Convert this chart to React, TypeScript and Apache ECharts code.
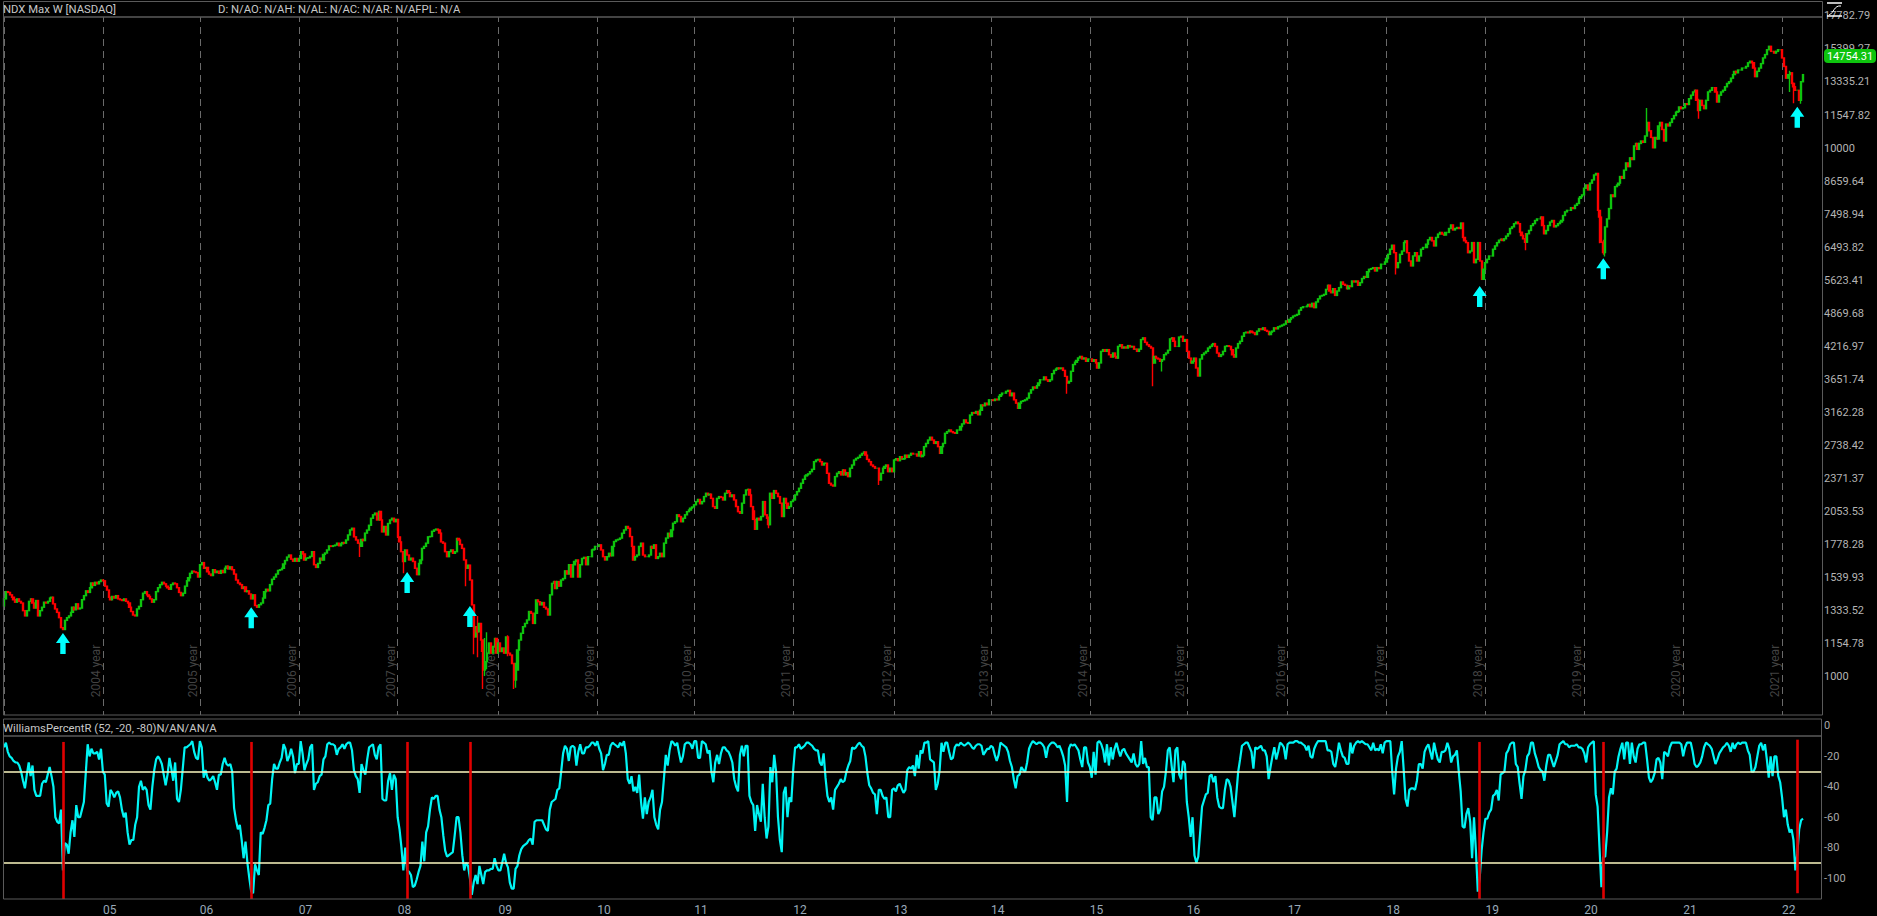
import React, { useEffect, useRef } from "react";
import * as echarts from "echarts";

const close04 = [1400,1445,1440,1425,1410,1395,1380,1400,1385,1375,1330,1300,1330,1385,1400,1375,1345,1390,1300,1330,1350,1380,1375,1385,1405,1410,1370,1340,1320,1290,1235,1225,1275,1290,1300,1320,1350,1335,1370,1340,1345,1395,1420,1450,1440,1470,1500,1485,1505,1495,1510,1520];
const close05 = [1515,1480,1455,1410,1395,1415,1405,1420,1400,1395,1390,1400,1385,1375,1350,1325,1305,1300,1340,1355,1395,1435,1445,1425,1415,1400,1380,1395,1445,1470,1490,1505,1495,1480,1470,1460,1490,1500,1495,1470,1440,1420,1435,1480,1515,1535,1565,1580,1575,1570,1540];
const close06 = [1625,1640,1600,1605,1575,1560,1550,1590,1570,1580,1565,1585,1570,1600,1615,1595,1610,1590,1560,1520,1500,1490,1465,1475,1445,1450,1430,1400,1425,1360,1350,1365,1375,1405,1445,1460,1450,1490,1525,1540,1560,1585,1590,1600,1630,1655,1680,1695,1665,1650,1670,1650];
const close07 = [1670,1720,1703,1659,1672,1675,1685,1720,1625,1606,1634,1672,1659,1700,1710,1733,1764,1760,1765,1770,1785,1765,1780,1790,1785,1810,1850,1891,1905,1835,1810,1785,1760,1815,1805,1865,1890,1930,1990,2020,2035,1975,2050,1975,1875,1920,1850,1945,1975,1990,1960,1980];
const close08 = [1835,1795,1720,1648,1733,1695,1659,1672,1648,1600,1556,1634,1659,1745,1760,1785,1835,1838,1880,1891,1898,1890,1865,1795,1785,1720,1683,1720,1733,1708,1720,1822,1810,1775,1745,1659,1600,1622,1520,1364,1186,1240,1213,1258,1170,1027,1065,1105,1155,1105,1138,1178,1105];
const close09 = [1155,1113,1130,1105,1186,1105,1096,1056,983,1027,1120,1170,1205,1240,1258,1277,1325,1315,1258,1315,1393,1383,1364,1378,1350,1340,1305,1425,1498,1510,1465,1510,1480,1520,1530,1582,1560,1625,1540,1625,1648,1659,1540,1625,1670,1678,1625,1683,1683,1733,1738,1760];
const close10 = [1760,1772,1733,1683,1659,1683,1708,1690,1760,1798,1810,1815,1825,1864,1891,1920,1905,1837,1760,1659,1683,1695,1760,1785,1695,1683,1683,1695,1760,1745,1772,1670,1683,1708,1683,1785,1825,1864,1837,1891,1947,1960,2020,2005,1960,1990,2020,2048,2063,2080,2090];
const close11 = [2110,2140,2160,2120,2140,2187,2219,2203,2210,2170,2094,2078,2170,2187,2180,2155,2219,2245,2225,2187,2203,2155,2094,2048,2034,2125,2203,2251,2257,2203,2094,1980,1897,1990,1975,2005,2140,2020,1990,1935,2219,2170,2245,2219,2187,2125,2005,2170,2125,2078,2094,2140];
const close12 = [2155,2203,2235,2268,2318,2358,2393,2404,2415,2438,2463,2547,2565,2572,2547,2510,2529,2529,2421,2318,2300,2290,2386,2421,2438,2404,2456,2404,2428,2386,2475,2510,2565,2583,2595,2620,2640,2657,2620,2572,2547,2510,2493,2475,2475,2351,2421,2475,2493,2510,2438,2475,2438];
const close13 = [2565,2580,2558,2603,2575,2580,2620,2595,2620,2641,2633,2633,2610,2660,2603,2620,2719,2758,2799,2833,2799,2758,2778,2719,2641,2719,2758,2882,2903,2924,2903,2890,2882,2924,2924,2968,3003,3055,3020,3012,3121,3155,3146,3170,3125,3187,3260,3250,3287,3264,3335];
const close14 = [3335,3325,3345,3335,3385,3410,3434,3434,3460,3475,3395,3434,3335,3287,3215,3287,3312,3322,3335,3360,3434,3484,3527,3510,3548,3588,3640,3640,3685,3640,3615,3640,3738,3792,3815,3832,3820,3832,3792,3695,3588,3615,3777,3890,3930,3962,4003,4030,3985,4003,3945,3985];
const close15 = [3985,3945,3973,3917,3832,3917,4120,4151,4120,4151,4060,4018,4090,4030,4000,4210,4240,4180,4200,4180,4225,4200,4210,4160,4160,4120,4160,4337,4370,4285,4240,4210,4180,3917,4030,4000,3985,3945,3973,4060,4090,4140,4350,4370,4305,4210,4210,4385,4400,4305,4337];
const close16 = [4120,4000,3917,3945,4000,3832,3700,3985,4060,4090,4120,4180,4210,4240,4262,4210,4090,4030,4060,4120,4210,4222,4210,4151,4060,4018,4180,4262,4305,4400,4467,4480,4467,4500,4480,4467,4433,4500,4545,4531,4565,4515,4495,4433,4480,4500,4565,4545,4585,4600,4620,4640,4705];
const close17 = [4680,4735,4770,4805,4820,4840,4930,4985,5005,5005,5020,5055,5005,5080,4985,5110,5180,5243,5258,5282,5398,5495,5360,5320,5415,5258,5360,5440,5575,5520,5495,5415,5480,5465,5600,5575,5600,5495,5560,5660,5710,5690,5830,5892,5910,5935,5850,5935,5910,6025,6025,6085];
const close18 = [6175,6290,6431,6545,6335,5935,6065,6290,6380,6620,6670,6335,6110,5980,6245,6335,6110,6245,6431,6480,6480,6575,6700,6770,6670,6525,6770,6870,6920,6870,6840,6920,6920,7040,7150,6995,7040,7070,7040,7210,6770,6670,6620,6335,6380,6620,6065,6155,6620,6110,5640,5892];
const close19 = [6065,6155,6245,6245,6431,6525,6620,6690,6720,6680,6730,6810,6880,7040,7090,7190,7240,7190,6930,6830,6730,6630,6880,6980,7130,7190,7290,7340,7340,7400,7130,6880,6980,7130,7240,7290,7090,7130,7190,7240,7290,7450,7570,7620,7620,7710,7680,7790,7850,8030,8090,8150];
const close20 = [8390,8510,8330,8580,8700,8890,8950,7620,7400,6630,6340,7090,7340,7680,8150,8090,8450,8510,8580,8830,8760,9080,9370,9220,9580,9510,10090,10200,9940,10200,10310,10250,10540,11180,10780,10470,10010,10470,10400,11010,11180,10840,10310,11100,11010,11180,11360,11520,11690,11730,11960,11870];
const close21 = [11920,12130,12090,12400,12590,12770,12860,12310,11780,12310,12040,11870,12310,12770,12860,13010,13010,12770,12220,12590,12770,12860,13060,13250,13350,13560,13770,13970,13880,14050,14050,14170,14170,14270,14500,14600,14500,14170,13650,13970,14170,14450,14810,15030,15350,15580,15240,15240,15130,15240,15350,15350];
const close22 = [14810,14270,13560,13770,13880,13250,13060,12860,12860,12310,13350,13770];

// [bar index, high, low] for the bars whose shadows stand out
const longWicks = [[187,1790,1680],[210,1680,1565],[243,1620,1480],[247,1300,1100],[249,1300,1085],[251,1250,1110],[252,1140,945],[253,1180,1000],[254,1210,1030],[265,1195,1090],[268,1040,945],[269,1060,950],[395,2060,1890],[402,2005,1905],[460,2480,2300],[559,3610,3425],[604,4000,3540],[609,3960,3775],[732,6200,5760],[800,6900,6400],[839,7620,6600],[841,6700,6280],[842,7100,6230],[864,11900,10900],[891,12400,11360],[939,14000,12770],[941,13300,12160],[945,13400,12130]];

const wr04 = [-14,-11,-17,-20,-21,-23,-24,-24,-26,-30,-36,-41,-32,-24,-33,-26,-42,-46,-46,-46,-38,-36,-37,-32,-27,-33,-40,-60,-63,-64,-55,-95,-77,-78,-84,-70,-62,-73,-52,-60,-60,-55,-50,-31,-12,-20,-15,-18,-18,-17,-22,-15];
const wr05 = [-30,-32,-51,-53,-42,-44,-47,-44,-43,-47,-55,-60,-57,-70,-78,-75,-75,-65,-60,-40,-36,-42,-40,-42,-52,-55,-40,-29,-22,-20,-22,-25,-32,-39,-32,-21,-28,-36,-24,-48,-50,-42,-28,-14,-14,-13,-12,-10,-17,-21,-22];
const wr06 = [-10,-14,-34,-29,-34,-36,-35,-33,-37,-42,-32,-32,-25,-21,-25,-26,-25,-30,-54,-62,-68,-65,-75,-87,-76,-90,-100,-109,-110,-91,-95,-98,-70,-71,-67,-62,-52,-51,-35,-25,-28,-28,-24,-21,-12,-15,-23,-20,-15,-20,-31,-25];
const wr07 = [-25,-10,-18,-29,-25,-22,-14,-12,-42,-38,-37,-33,-32,-22,-20,-12,-11,-12,-12,-13,-19,-15,-14,-12,-15,-12,-11,-11,-16,-29,-33,-35,-44,-25,-29,-32,-22,-14,-13,-12,-19,-22,-14,-12,-48,-49,-49,-36,-31,-42,-32,-35];
const wr08 = [-60,-68,-80,-95,-80,-95,-96,-98,-106,-105,-101,-96,-92,-76,-89,-70,-66,-55,-47,-48,-46,-46,-55,-60,-72,-82,-86,-85,-84,-83,-72,-60,-60,-70,-85,-95,-90,-92,-100,-111,-103,-98,-104,-92,-98,-104,-96,-95,-95,-94,-94,-87,-92];
const wr09 = [-95,-95,-90,-84,-90,-93,-103,-107,-107,-94,-92,-85,-81,-79,-78,-77,-75,-74,-78,-63,-62,-62,-62,-62,-65,-68,-69,-55,-50,-49,-48,-42,-41,-30,-18,-13,-15,-23,-14,-13,-14,-26,-17,-12,-18,-18,-14,-14,-13,-11,-11,-13];
const wr10 = [-10,-15,-18,-29,-25,-19,-19,-13,-11,-12,-13,-14,-11,-13,-10,-18,-35,-38,-33,-43,-40,-44,-32,-50,-61,-47,-58,-50,-47,-42,-60,-65,-68,-55,-50,-35,-19,-26,-16,-10,-11,-13,-11,-18,-24,-20,-12,-11,-11,-12,-15];
const wr11 = [-10,-10,-21,-21,-10,-11,-12,-18,-16,-30,-37,-24,-19,-25,-18,-14,-14,-16,-17,-20,-24,-35,-40,-43,-19,-13,-20,-13,-13,-46,-50,-52,-69,-52,-58,-63,-38,-60,-74,-66,-27,-37,-19,-30,-60,-75,-83,-44,-40,-60,-47,-50];
const wr12 = [-29,-14,-14,-12,-15,-14,-13,-11,-11,-12,-13,-15,-16,-16,-24,-26,-18,-34,-46,-50,-47,-55,-42,-40,-38,-35,-37,-36,-30,-26,-23,-14,-15,-14,-12,-11,-13,-14,-20,-31,-39,-41,-44,-45,-58,-42,-42,-46,-48,-47,-60,-60,-42];
const wr13 = [-41,-43,-39,-38,-41,-44,-42,-29,-27,-28,-26,-33,-19,-28,-16,-18,-11,-11,-10,-22,-23,-24,-42,-38,-29,-11,-17,-11,-11,-17,-22,-21,-14,-12,-13,-11,-12,-13,-12,-11,-12,-14,-15,-13,-12,-12,-13,-19,-17,-15,-15];
const wr14 = [-13,-14,-19,-23,-19,-11,-12,-13,-14,-17,-23,-27,-35,-41,-33,-32,-27,-29,-30,-24,-15,-12,-10,-11,-12,-11,-11,-12,-14,-21,-14,-12,-11,-11,-12,-14,-13,-16,-20,-26,-50,-15,-12,-13,-12,-14,-16,-22,-27,-14,-14,-24];
const wr15 = [-27,-34,-17,-32,-11,-10,-12,-16,-24,-12,-26,-14,-22,-15,-11,-16,-20,-16,-15,-18,-20,-22,-24,-18,-25,-27,-25,-10,-25,-21,-27,-27,-60,-62,-47,-47,-58,-55,-43,-40,-30,-16,-14,-26,-37,-16,-14,-32,-35,-23,-25];
const wr16 = [-50,-60,-73,-60,-85,-90,-86,-70,-53,-49,-45,-44,-33,-32,-37,-33,-47,-53,-54,-54,-42,-35,-36,-40,-50,-60,-45,-30,-22,-13,-12,-11,-11,-14,-17,-28,-14,-15,-14,-13,-16,-16,-20,-35,-27,-20,-14,-22,-17,-11,-12,-14,-22];
const wr17 = [-12,-11,-11,-11,-10,-10,-11,-11,-12,-13,-16,-13,-20,-21,-15,-12,-10,-10,-10,-10,-10,-16,-16,-17,-25,-27,-20,-11,-16,-20,-21,-25,-25,-11,-18,-13,-11,-10,-11,-10,-11,-12,-12,-14,-16,-11,-16,-15,-16,-12,-18,-11];
const wr18 = [-10,-10,-10,-30,-45,-28,-20,-17,-10,-28,-48,-53,-42,-41,-41,-42,-36,-25,-25,-28,-17,-14,-12,-17,-22,-11,-17,-22,-24,-17,-17,-16,-11,-15,-24,-20,-19,-16,-30,-43,-66,-67,-58,-54,-63,-87,-60,-82,-109,-100,-82,-70];
const wr19 = [-61,-61,-57,-55,-46,-45,-42,-49,-32,-31,-30,-18,-16,-12,-11,-11,-25,-27,-38,-48,-33,-29,-20,-18,-11,-11,-18,-22,-27,-29,-30,-36,-26,-19,-19,-23,-27,-23,-19,-12,-11,-10,-12,-12,-14,-13,-13,-13,-12,-14,-14,-15];
const wr20 = [-18,-24,-14,-12,-11,-10,-45,-53,-80,-106,-86,-86,-70,-47,-41,-45,-30,-28,-20,-15,-11,-22,-11,-11,-25,-11,-20,-24,-15,-12,-12,-11,-11,-22,-34,-37,-35,-31,-22,-21,-24,-35,-17,-18,-20,-14,-11,-11,-11,-11,-11,-12];
const wr21 = [-20,-14,-11,-11,-11,-17,-25,-27,-26,-24,-20,-14,-11,-12,-13,-15,-20,-25,-22,-18,-16,-14,-13,-11,-13,-17,-11,-15,-12,-11,-12,-11,-11,-11,-16,-19,-30,-30,-27,-20,-13,-11,-16,-12,-22,-34,-20,-33,-20,-20,-33,-37];
const wr22 = [-47,-60,-55,-65,-70,-68,-75,-95,-84,-68,-62,-61];

const closeYears = [close04,close05,close06,close07,close08,close09,close10,close11,close12,close13,close14,close15,close16,close17,close18,close19,close20,close21,close22];
const wrYears = [wr04,wr05,wr06,wr07,wr08,wr09,wr10,wr11,wr12,wr13,wr14,wr15,wr16,wr17,wr18,wr19,wr20,wr21,wr22];
const yearLabels = ["", "2004 year","2005 year","2006 year","2007 year","2008 year","2009 year","2010 year","2011 year","2012 year","2013 year","2014 year","2015 year","2016 year","2017 year","2018 year","2019 year","2020 year","2021 year"];
const tickLabels = ["", "05","06","07","08","09","10","11","12","13","14","15","16","17","18","19","20","21","22"];
const priceLabels = ["1000","1154.78","1333.52","1539.93","1778.28","2053.53","2371.37","2738.42","3162.28","3651.74","4216.97","4869.68","5623.41","6493.82","7498.94","8659.64","10000","11547.82","13335.21","15399.27","17782.79"];
const wrTicks = [0,-20,-40,-60,-80,-100];
const wrLevels = [-30,-90];
const signalBars = [31,130,212,245,776,841,943];
const arrowPrices = [1152,1290,1503,1296,5231,5908,11440];
const lastPriceText = "14754.31";

const SLOTS = 957;
const CYAN = "#00f5f5";
const FONT = "Roboto, sans-serif";
const toK = (p: number) => 16 * Math.log10(p / 1000);

function buildOption() {
  const closes = closeYears.flat();
  const wr = wrYears.flat();
  const tickIndex: number[] = [];
  let n = 0;
  for (const y of closeYears) { tickIndex.push(n); n += y.length; }
  const tickOf = new Map(tickIndex.map((v, i) => [v, i]));
  const wick = new Map(longWicks.map((w) => [w[0], w]));
  const cats = Array.from({ length: SLOTS }, (_, i) => String(i));
  const candles = closes.map((c, i) => {
    const o = i ? closes[i - 1] : c * 0.97;
    const w = wick.get(i);
    const hi = Math.max(o, c, w ? w[1] : 0);
    const lo = Math.min(o, c, w ? w[2] : 1e9);
    return [toK(o), toK(c), toK(lo), toK(hi)];
  });
  const isTick = (i: number) => tickOf.has(i);
  const lineH = (v: number) => [{ coord: [0, v] }, { coord: [SLOTS - 1, v] }];
  const border = (x: number, y: number, w: number, h: number) => ({ type: "rect", z: 100, silent: true, shape: { x, y, width: w, height: h }, style: { fill: "none", stroke: "#5a5a5a", lineWidth: 1 } });
  const txt = (x: number, y: number, text: string, extra: any = {}, z = 102) => ({ type: "text", z, silent: true, x, y, style: { text, fill: "#c8c8c8", font: `11.3px ${FONT}`, textVerticalAlign: "middle", ...extra } });
  return {
    animation: false,
    backgroundColor: "#000000",
    grid: [
      { left: 4, right: 55, top: 15, height: 700 },
      { left: 4, right: 55, top: 719, height: 180 },
    ],
    xAxis: [
      { type: "category", gridIndex: 0, data: cats, boundaryGap: false, axisLine: { show: false }, axisTick: { show: false }, axisLabel: { show: false }, splitLine: { show: true, interval: (i: number) => isTick(i), lineStyle: { color: "#6a6a6a", type: [7, 5], width: 1 } } },
      { type: "category", gridIndex: 1, data: cats, boundaryGap: false, axisLine: { show: false }, axisTick: { show: false }, splitLine: { show: false },
        axisLabel: { interval: (i: number) => isTick(i) && i > 0, formatter: (_: string, i: number) => tickLabels[tickOf.get(i) ?? 0], color: "#98a8b8", fontFamily: FONT, fontSize: 12, align: "left", margin: 5 } },
    ],
    yAxis: [
      { type: "value", gridIndex: 0, position: "right", min: -1.18, max: 20.03, splitLine: { show: false }, axisLine: { show: false }, axisTick: { show: false },
        axisLabel: { customValues: priceLabels.map((_, k) => k), formatter: (v: number) => priceLabels[Math.round(v)], color: "#b4b4b4", fontFamily: FONT, fontSize: 11, margin: 2 } },
      { type: "value", gridIndex: 1, position: "right", min: -113.8, max: 4.6, splitLine: { show: false }, axisLine: { show: false }, axisTick: { show: false },
        axisLabel: { customValues: wrTicks, color: "#a8a8a8", fontFamily: FONT, fontSize: 11, margin: 2 } },
    ],
    series: [
      { name: "NDX", type: "candlestick", xAxisIndex: 0, yAxisIndex: 0, large: false, data: candles, barWidth: 1.6, z: 3,
        itemStyle: { color: "#0ec40e", color0: "#ff0000", borderColor: "#0ec40e", borderColor0: "#ff0000", borderWidth: 1.4 } },
      { name: "signals", type: "scatter", xAxisIndex: 0, yAxisIndex: 0, z: 4, silent: true,
        symbol: "path://M7 0L14 10L9.7 10L9.7 21L4.3 21L4.3 10L0 10Z", symbolSize: [14, 21],
        itemStyle: { color: "#00ffff", opacity: 1 }, data: signalBars.map((b, i) => [b, toK(arrowPrices[i])]) },
      { name: "years", type: "scatter", xAxisIndex: 0, yAxisIndex: 0, z: 2, silent: true, symbolSize: 0,
        data: tickIndex.slice(1).map((t, i) => ({ value: [t, toK(1022)], yearText: yearLabels[i + 1] })),
        label: { show: true, position: "inside", offset: [0, -7], rotate: 90, align: "center", verticalAlign: "middle", color: "#555555", fontFamily: FONT, fontSize: 12, formatter: (p: any) => p.data.yearText } },
      { name: "levels", type: "line", xAxisIndex: 1, yAxisIndex: 1, z: 1, data: [], silent: true,
        markLine: { silent: true, symbol: "none", label: { show: false }, animation: false,
          data: [
            ...wrLevels.map((v) => { const [a, b] = lineH(v); return [{ ...a, lineStyle: { color: "#fdf8c0", width: 1.5, type: "solid" } }, b]; }),
            ...signalBars.map((b, i) => [{ coord: [b, i === 6 ? -9 : -10.5], lineStyle: { color: "#e00000", width: 2.6, type: "solid" } }, { coord: [b, i === 6 ? -110 : -113.8] }]),
          ] } },
      { name: "WilliamsPercentR", type: "line", xAxisIndex: 1, yAxisIndex: 1, z: 2, data: wr, showSymbol: false, symbol: "none", lineStyle: { color: CYAN, width: 2.2 } },
    ],
    graphic: [
      { type: "rect", z: 99, silent: true, shape: { x: 3, y: 1, width: 1819, height: 16 }, style: { fill: "#000" } },
      { type: "rect", z: 99, silent: true, shape: { x: 3, y: 719, width: 1819, height: 17 }, style: { fill: "#000" } },
      border(3.5, 1.5, 1819, 15.5),
      border(3.5, 17, 1819, 698),
      border(3.5, 719, 1818, 17),
      border(3.5, 736, 1818, 163),
      txt(3, 9, "NDX Max W [NASDAQ]"),
      txt(218, 9, "D: N/AO: N/AH: N/AL: N/AC: N/AR: N/AFPL: N/A"),
      txt(3, 728, "WilliamsPercentR (52, -20, -80)N/AN/AN/A"),
      { type: "rect", z: 103, silent: true, shape: { x: 1824, y: 49, width: 52, height: 14, r: 4 }, style: { fill: "#0ec40e" } },
      txt(1850, 56, lastPriceText, { fill: "#ffffff", textAlign: "center", font: `11px ${FONT}` }, 105),
      { type: "line", z: 104, silent: true, shape: { x1: 1827, y1: 3, x2: 1842, y2: 3 }, style: { stroke: "#ffffff", lineWidth: 1.5 } },
      { type: "line", z: 104, silent: true, shape: { x1: 1827, y1: 16, x2: 1842, y2: 16 }, style: { stroke: "#ffffff", lineWidth: 1.5 } },
      { type: "bezierCurve", z: 104, silent: true, shape: { x1: 1829, y1: 15, cpx1: 1834, cpy1: 13, cpx2: 1834, cpy2: 5, x2: 1841, y2: 6 }, style: { stroke: "#ffffff", lineWidth: 1, fill: "none" } },
    ],
  };
}

export default function App() {
  const ref = useRef<HTMLDivElement>(null);
  useEffect(() => {
    document.body.style.margin = "0";
    document.body.style.background = "#000";
    const chart = echarts.init(ref.current!, undefined, { renderer: "svg" });
    chart.setOption(buildOption() as any);
    return () => chart.dispose();
  }, []);
  return <div ref={ref} style={{ width: 1877, height: 916 }} />;
}
